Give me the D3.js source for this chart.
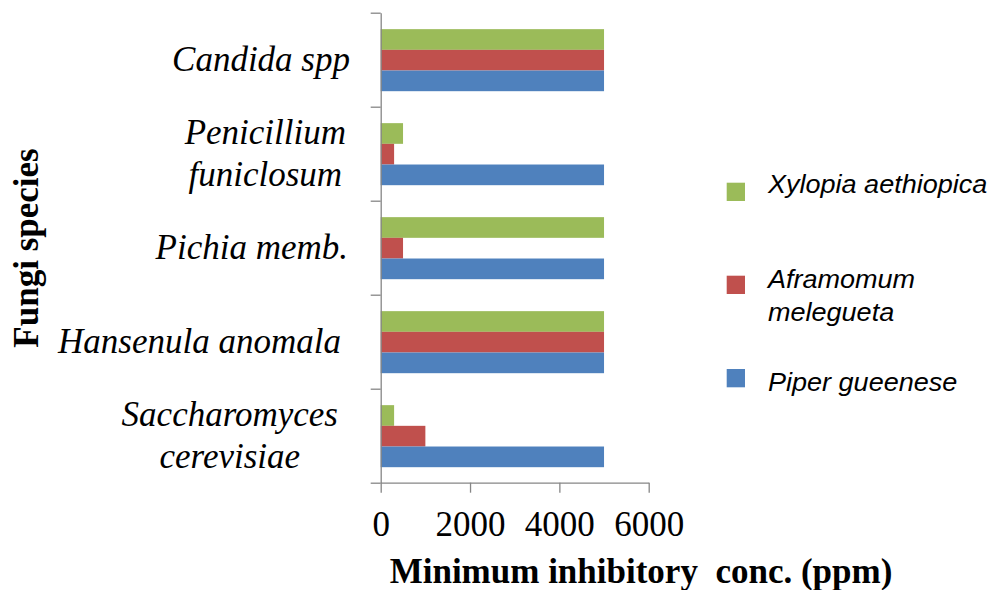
<!DOCTYPE html>
<html>
<head>
<meta charset="utf-8">
<script src="https://cdn.jsdelivr.net/npm/d3@7"></script>
<style>
  html, body { margin: 0; padding: 0; background: #fff; }
  svg { display: block; }
</style>
</head>
<body>
<svg id="chart" width="992" height="590"></svg>
<script>
// ---- data ----
const categories = ["Candida spp", "Penicillium funiclosum", "Pichia memb.", "Hansenula anomala", "Saccharomyces cerevisiae"];
const categoryLines = [["Candida spp"], ["Penicillium", "funiclosum"], ["Pichia memb."], ["Hansenula anomala"], ["Saccharomyces", "cerevisiae"]];
const seriesNames = ["Xylopia aethiopica", "Aframomum melegueta", "Piper gueenese"];
const legendLines = [["Xylopia aethiopica"], ["Aframomum", "melegueta"], ["Piper gueenese"]];
const xylopia = [5000, 500, 5000, 5000, 300];
const aframomum = [5000, 300, 500, 5000, 1000];
const piper = [5000, 5000, 5000, 5000, 5000];
const xTicks = [0, 2000, 4000, 6000];
const colors = ["#9BBB59", "#C0504D", "#4F81BD"];
const seriesValues = [xylopia, aframomum, piper];

// layout (not data)
const labelRightEdges = [350, 346, 348, 341, 338];

const svg = d3.select("#chart");
const serif = "'Liberation Serif', 'Times New Roman', serif";
const sans = "'Liberation Sans', Arial, sans-serif";
const axisColor = "#868686";

const x = d3.scaleLinear().domain([0, 6000]).range([380.7, 648.7]);
const y = d3.scaleBand().domain(categories).range([12.7, 482.7]).padding(0);
const inner = d3.scaleBand().domain(seriesNames).range([y.bandwidth() * 0.175, y.bandwidth() * 0.835]).padding(0);

// bars
const g = svg.append("g");
seriesNames.forEach((s, si) => {
  g.selectAll(".bar" + si)
    .data(categories.map((c, ci) => ({ c, v: seriesValues[si][ci] })))
    .enter().append("rect")
    .attr("x", x(0))
    .attr("y", d => y(d.c) + inner(s))
    .attr("width", d => x(d.v) - x(0))
    .attr("height", inner.bandwidth())
    .attr("fill", colors[si]);
});

// y axis (ticks at category boundaries)
const yIdx = d3.scaleLinear().domain([0, categories.length]).range([482.7, 12.7]);
const yAxis = svg.append("g").attr("transform", `translate(${x(0)},0)`)
  .call(d3.axisLeft(yIdx).tickValues(d3.range(categories.length + 1)).tickSize(10).tickSizeOuter(0).tickFormat(""));
yAxis.selectAll("path, line").attr("stroke", axisColor).attr("stroke-width", 1.3);

// x axis
const xAxis = svg.append("g").attr("transform", `translate(0,482.7)`)
  .call(d3.axisBottom(x).tickValues(xTicks).tickSize(10).tickSizeOuter(0).tickFormat(d3.format("d")));
xAxis.selectAll("path, line").attr("stroke", axisColor).attr("stroke-width", 1.3);
xAxis.selectAll("text")
  .attr("y", 53.3).attr("dy", null)
  .attr("font-family", serif).attr("font-size", 35).attr("fill", "#000");

// category labels
categoryLines.forEach((lines, i) => {
  const cy = y(categories[i]) + y.bandwidth() / 2;
  const lh = lines.length > 1 ? 41.5 : 0;
  const grp = svg.append("g");
  const texts = lines.map((ln, li) => grp.append("text")
    .attr("y", cy + 11.5 + (li - (lines.length - 1) / 2) * lh)
    .attr("font-family", serif).attr("font-style", "italic").attr("font-size", 35)
    .attr("fill", "#000").attr("text-anchor", "middle").text(ln));
  const w = d3.max(texts, t => t.node().getComputedTextLength());
  texts.forEach(t => t.attr("x", labelRightEdges[i] - w / 2));
});

// axis titles
svg.append("text")
  .attr("transform", "translate(38,248) rotate(-90)")
  .attr("text-anchor", "middle")
  .attr("font-family", serif).attr("font-weight", "bold").attr("font-size", 35)
  .attr("fill", "#000").text("Fungi species");

svg.append("text")
  .attr("x", 641).attr("y", 583)
  .attr("text-anchor", "middle")
  .attr("font-family", serif).attr("font-weight", "bold").attr("font-size", 35)
  .attr("fill", "#000").style("white-space", "pre").text("Minimum inhibitory  conc. (ppm)");

// legend
const legendSquareY = [182.7, 275.7, 369];
const legendTextY = [[193], [288, 321], [391]];
legendLines.forEach((lines, i) => {
  svg.append("rect")
    .attr("x", 726.7).attr("y", legendSquareY[i])
    .attr("width", 18.3).attr("height", 18.3)
    .attr("fill", colors[i]);
  lines.forEach((ln, li) => {
    svg.append("text")
      .attr("transform", `translate(768,${legendTextY[i][li]}) scale(1.06,1)`)
      .attr("font-family", sans).attr("font-style", "italic").attr("font-size", 25.5)
      .attr("fill", "#000").text(ln);
  });
});
</script>
</body>
</html>
